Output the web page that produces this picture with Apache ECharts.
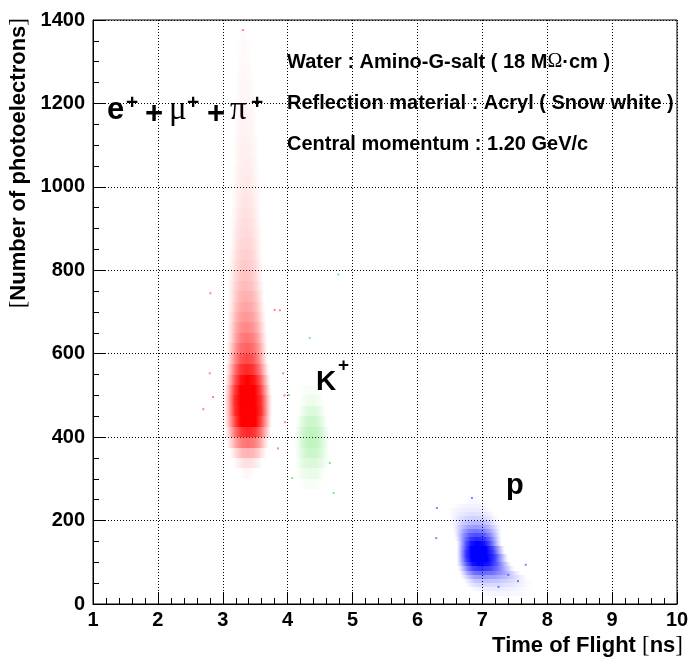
<!DOCTYPE html>
<html><head><meta charset="utf-8">
<script src="https://cdn.jsdelivr.net/npm/echarts/dist/echarts.min.js"></script>
<style>html,body{margin:0;padding:0;background:#fff}#c{width:688px;height:657px}</style>
</head><body><div id="c"></div>
<script>
// ---------- Data ----------
// Axis ticks
const xTicks = [1, 2, 3, 4, 5, 6, 7, 8, 9, 10];
const yTicks = [0, 200, 400, 600, 800, 1000, 1200, 1400];

// e+ + mu+ + pi+ cluster, 2D density profile in 25-pe rows:
// row centre (pe), left edge, peak, right edge (ns), relative density
const redBinPE = 25;
const redPE    = [312.5,337.5,362.5,387.5,412.5,437.5,462.5,487.5,512.5,537.5,562.5,587.5,612.5,637.5,662.5,687.5,712.5,737.5,762.5,787.5,812.5,837.5,862.5,887.5,912.5,937.5,962.5,987.5,1012.5,1037.5,1062.5,1087.5,1112.5,1137.5,1162.5,1187.5,1212.5,1237.5,1262.5,1287.5,1312.5,1337.5,1362.5];
const redLeft  = [3.25,3.15,3.10,3.05,3.03,3.02,3.02,3.02,3.02,3.03,3.04,3.05,3.05,3.06,3.06,3.06,3.07,3.07,3.07,3.08,3.08,3.09,3.10,3.10,3.11,3.12,3.13,3.13,3.14,3.14,3.15,3.15,3.15,3.16,3.16,3.17,3.17,3.18,3.18,3.20,3.20,3.22,3.24];
const redPeak  = [3.38,3.39,3.39,3.39,3.39,3.39,3.39,3.38,3.38,3.38,3.37,3.37,3.37,3.37,3.36,3.36,3.36,3.36,3.35,3.35,3.35,3.35,3.35,3.35,3.35,3.35,3.35,3.35,3.35,3.35,3.35,3.34,3.34,3.34,3.34,3.34,3.34,3.33,3.33,3.33,3.33,3.32,3.31];
const redRight = [3.50,3.62,3.68,3.72,3.75,3.76,3.76,3.76,3.75,3.74,3.72,3.70,3.70,3.69,3.68,3.67,3.66,3.65,3.64,3.63,3.63,3.62,3.62,3.62,3.61,3.60,3.60,3.60,3.59,3.58,3.58,3.57,3.56,3.55,3.55,3.54,3.53,3.52,3.50,3.48,3.46,3.44,3.40];
const redDens  = [0.03,0.12,0.30,0.55,0.85,1.10,1.25,1.25,1.15,1.00,0.85,0.72,0.62,0.54,0.47,0.41,0.36,0.31,0.27,0.24,0.21,0.19,0.17,0.15,0.135,0.12,0.105,0.095,0.085,0.078,0.07,0.064,0.058,0.052,0.047,0.043,0.039,0.035,0.031,0.027,0.023,0.019,0.015];
// isolated red events (ns, pe)
const redStrayX = [2.80, 2.70, 2.85, 2.81, 3.80, 3.31, 3.85, 3.93, 3.95, 3.96, 3.88];
const redStrayY = [553, 467, 496, 745, 705, 1376, 373, 553, 500, 436, 704];

// K+ cluster, 25-pe rows
const grnBinPE = 25;
const grnPE    = [287.5,312.5,337.5,362.5,387.5,412.5,437.5,462.5,487.5,512.5];
const grnLeft  = [4.15,4.12,4.10,4.10,4.10,4.10,4.12,4.15,4.18,4.20];
const grnPeak  = [4.35,4.36,4.37,4.37,4.37,4.37,4.37,4.37,4.36,4.35];
const grnRight = [4.55,4.60,4.65,4.65,4.65,4.65,4.62,4.60,4.56,4.50];
const grnDens  = [0.04,0.09,0.15,0.21,0.25,0.25,0.20,0.14,0.07,0.03];
const grnStrayX = [4.34, 4.02, 4.07, 4.78, 4.65, 4.71];
const grnStrayY = [638, 501, 302, 790, 338, 266];

// proton cluster, 10-pe rows
const bluBinPE = 10;
const bluPE    = [25, 35, 45, 55, 65, 75, 85, 95, 105, 115, 125, 135, 145, 155, 165, 175, 185, 195, 205, 215, 225, 235, 245, 255];
const bluLeft  = [6.90,6.80,6.72,6.70,6.66,6.64,6.62,6.60,6.60,6.60,6.60,6.60,6.60,6.58,6.56,6.55,6.52,6.50,6.48,6.46,6.45,6.50,6.70,6.80];
const bluPeak  = [7.20,7.10,7.02,7.00,6.98,6.97,6.96,6.95,6.94,6.93,6.93,6.93,6.92,6.92,6.91,6.90,6.90,6.90,6.89,6.88,6.88,6.88,6.90,6.92];
const bluRight = [7.80,7.80,7.80,7.75,7.70,7.60,7.50,7.45,7.40,7.40,7.35,7.35,7.30,7.30,7.30,7.30,7.30,7.28,7.25,7.22,7.18,7.12,7.05,7.02];
const bluDens  = [0.04,0.08,0.15,0.25,0.40,0.60,0.80,1.00,1.15,1.20,1.20,1.10,1.00,0.85,0.70,0.55,0.40,0.28,0.18,0.12,0.08,0.05,0.03,0.02];
const bluStrayX = [6.30, 6.29, 7.67, 7.25, 6.84, 7.55, 7.40];
const bluStrayY = [230, 158, 94, 41, 254, 55, 70];

// ---------- Chart ----------
const FONT = "'Liberation Sans', Arial, Helvetica, sans-serif";
const SERIF = "'Liberation Serif', 'Times New Roman', serif";

function rows(pe, l, p, r, d) { return pe.map((y, i) => [y, l[i], p[i], r[i], d[i]]); }
function pts(xs, ys) { return xs.map((x, i) => [x, ys[i]]); }

// horizontal falloff profile (fraction of half-width -> relative intensity)
const PROFILE_F = [0, 0.3, 0.55, 0.75, 0.9, 1];
const PROFILE_G = [1, 0.92, 0.65, 0.33, 0.1, 0];

function makeRender(rgb, binH) {
  return function (params, api) {
    const y = api.value(0), l = api.value(1), p = api.value(2), r = api.value(3), d = api.value(4);
    const a = api.coord([l, y + binH / 2]);
    const b = api.coord([r, y - binH / 2]);
    const x0 = a[0], x1 = b[0];
    const y0 = Math.round(a[1]), y1 = Math.round(b[1]);
    const po = (p - l) / (r - l);
    const stops = [];
    const col = i => 'rgba(' + rgb + ',' + Math.min(1, d * PROFILE_G[i]).toFixed(3) + ')';
    for (let i = PROFILE_F.length - 1; i >= 0; i--) stops.push({ offset: po - PROFILE_F[i] * po, color: col(i) });
    for (let i = 1; i < PROFILE_F.length; i++) stops.push({ offset: po + PROFILE_F[i] * (1 - po), color: col(i) });
    return {
      type: 'rect',
      shape: { x: x0, y: y0, width: x1 - x0, height: y1 - y0 },
      style: { fill: new echarts.graphic.LinearGradient(0, 0, 1, 0, stops) }
    };
  };
}

function cluster(name, data, rgb, binH) {
  return {
    type: 'custom', name: name, data: data, silent: true, clip: true,
    encode: { x: [1, 3], y: 0 },
    renderItem: makeRender(rgb, binH)
  };
}
function stray(name, data, color) {
  return {
    type: 'scatter', name: name, data: data, silent: true,
    symbol: 'rect', symbolSize: 2, itemStyle: { color: color }
  };
}

const chart = echarts.init(document.getElementById('c'), null, { renderer: 'canvas' });

const tickLabel = { color: '#000', fontFamily: FONT, fontWeight: 'bold', fontSize: 20 };
const gridLine = { show: true, lineStyle: { color: '#000', width: 1, type: [1, 2] } };

function txt(x, y, s, size, opts) {
  return {
    type: 'text', x: x, y: y, silent: true,
    style: Object.assign({ text: s, fill: '#000', fontFamily: FONT, fontWeight: 'bold', fontSize: size,
      align: 'left', verticalAlign: 'middle' }, opts || {})
  };
}

chart.setOption({
  animation: false,
  backgroundColor: '#fff',
  grid: { left: 93, right: 11, top: 20, bottom: 53, show: true, borderColor: '#000', borderWidth: 1,
    backgroundColor: 'transparent', outerBoundsMode: 'none', containLabel: false },
  xAxis: {
    type: 'value', min: xTicks[0], max: xTicks[xTicks.length - 1], interval: 1,
    axisLine: { show: true, onZero: false, lineStyle: { color: '#000', width: 1 } },
    axisTick: { show: true, inside: true, length: 12, lineStyle: { color: '#000' } },
    minorTick: { show: true, splitNumber: 5, length: 6, lineStyle: { color: '#000' } },
    axisLabel: Object.assign({ margin: 6, formatter: v => String(v) }, tickLabel),
    splitLine: gridLine
  },
  yAxis: {
    type: 'value', min: yTicks[0], max: yTicks[yTicks.length - 1], interval: 200,
    axisLine: { show: true, onZero: false, lineStyle: { color: '#000', width: 1 } },
    axisTick: { show: true, inside: true, length: 12, lineStyle: { color: '#000' } },
    minorTick: { show: true, splitNumber: 4, length: 6, lineStyle: { color: '#000' } },
    axisLabel: Object.assign({ margin: 8, formatter: v => String(v) }, tickLabel),
    splitLine: gridLine
  },
  series: [
    cluster('e+mu+pi', rows(redPE, redLeft, redPeak, redRight, redDens), '255,0,0', redBinPE),
    cluster('K+', rows(grnPE, grnLeft, grnPeak, grnRight, grnDens), '0,210,0', grnBinPE),
    cluster('p', rows(bluPE, bluLeft, bluPeak, bluRight, bluDens), '0,0,255', bluBinPE),
    stray('red stray', pts(redStrayX, redStrayY), 'rgba(255,0,0,0.6)'),
    stray('green stray', pts(grnStrayX, grnStrayY), 'rgba(0,210,0,0.6)'),
    stray('blue stray', pts(bluStrayX, bluStrayY), 'rgba(0,0,255,0.6)')
  ],
  graphic: [
    // info block
    txt(287, 62, '{a|Water : Amino-G-salt ( 18 M}{o|Ω}{a|·cm )}', 20, {
      rich: { a: { fontFamily: FONT, fontWeight: 'bold', fontSize: 20, fill: '#000' },
              o: { fontFamily: SERIF, fontWeight: 'normal', fontSize: 20, fill: '#000' } } }),
    txt(287, 103, 'Reflection material : Acryl ( Snow white )', 20),
    txt(287, 144, 'Central momentum : 1.20 GeV/c', 20),
    // particle labels
    txt(107, 110, 'e', 31),
    txt(126, 103, '+', 21),
    txt(145, 114, '+', 31),
    txt(169, 110, 'μ', 33, { fontFamily: SERIF, fontWeight: 'normal' }),
    txt(187, 103, '+', 21),
    txt(207, 114, '+', 31),
    txt(230, 110, 'π', 33, { fontFamily: SERIF, fontWeight: 'normal' }),
    txt(251, 103, '+', 21),
    txt(316, 382, 'K', 28),
    txt(338, 366, '+', 19),
    txt(506, 486, 'p', 29),
    // axis titles
    txt(683, 646, '{a|Time of Flight }{b|[}{a|ns}{b|]}', 22, {
      align: 'right',
      rich: { a: { fontFamily: FONT, fontWeight: 'bold', fontSize: 22, fill: '#000' },
              b: { fontFamily: SERIF, fontWeight: 'normal', fontSize: 23, fill: '#000' } } }),
    Object.assign(txt(19, 18, '{b|[}{a|Number of photoelectrons}{b|]}', 22, {
      align: 'right',
      rich: { a: { fontFamily: FONT, fontWeight: 'bold', fontSize: 22, fill: '#000' },
              b: { fontFamily: SERIF, fontWeight: 'normal', fontSize: 23, fill: '#000' } } }),
      { rotation: Math.PI / 2 })
  ]
});
</script>
</body></html>
